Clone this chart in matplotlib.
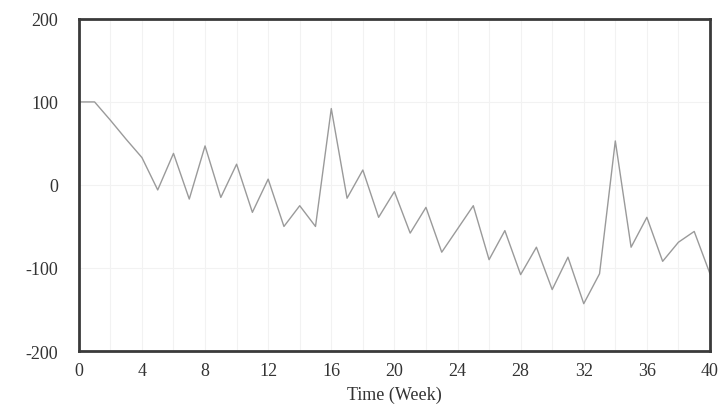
import numpy as np
import matplotlib
matplotlib.use("Agg")
import matplotlib.pyplot as plt

# weekly values
weeks = list(range(0, 41))
values = [100, 100, 78, 55, 33, -6, 38, -17, 47, -15,
          25, -33, 7, -50, -25, -50, 92, -16, 18, -39,
          -8, -58, -27, -81, -53, -25, -90, -55, -108, -75,
          -126, -87, -143, -107, 53, -75, -39, -92, -69, -56,
          -107]

x_ticks = [0, 4, 8, 12, 16, 20, 24, 28, 32, 36, 40]
y_ticks = [-200, -100, 0, 100, 200]

plt.rcParams['font.family'] = ['Liberation Serif', 'DejaVu Serif']
plt.rcParams['axes.unicode_minus'] = False

fig = plt.figure(figsize=(7.23, 4.06), dpi=100)
ax = fig.add_axes([0.109, 0.133, 0.873, 0.818])

ax.plot(weeks, values, color='#9a9a9a', linewidth=1.0)

ax.set_xlim(0, 40)
ax.set_ylim(-200, 200)
ax.set_xticks(x_ticks)
ax.set_yticks(y_ticks)
ax.set_xticks(range(0, 41, 2), minor=True)
ax.grid(True, which='both', axis='x', color='#f2f2f2', linewidth=0.8)
ax.grid(True, which='major', axis='y', color='#f2f2f2', linewidth=0.8)
ax.set_axisbelow(True)
ax.tick_params(which='both', length=0)
ax.tick_params(axis='y', labelsize=13, colors='#333333', pad=15)
ax.tick_params(axis='x', labelsize=13, colors='#333333', pad=8)

for s in ax.spines.values():
    s.set_color('#3a3a3a')
    s.set_linewidth(2)

ax.set_xlabel('Time (Week)', fontsize=13, color='#333333', labelpad=5)

fig.savefig('out.png', dpi=100)
